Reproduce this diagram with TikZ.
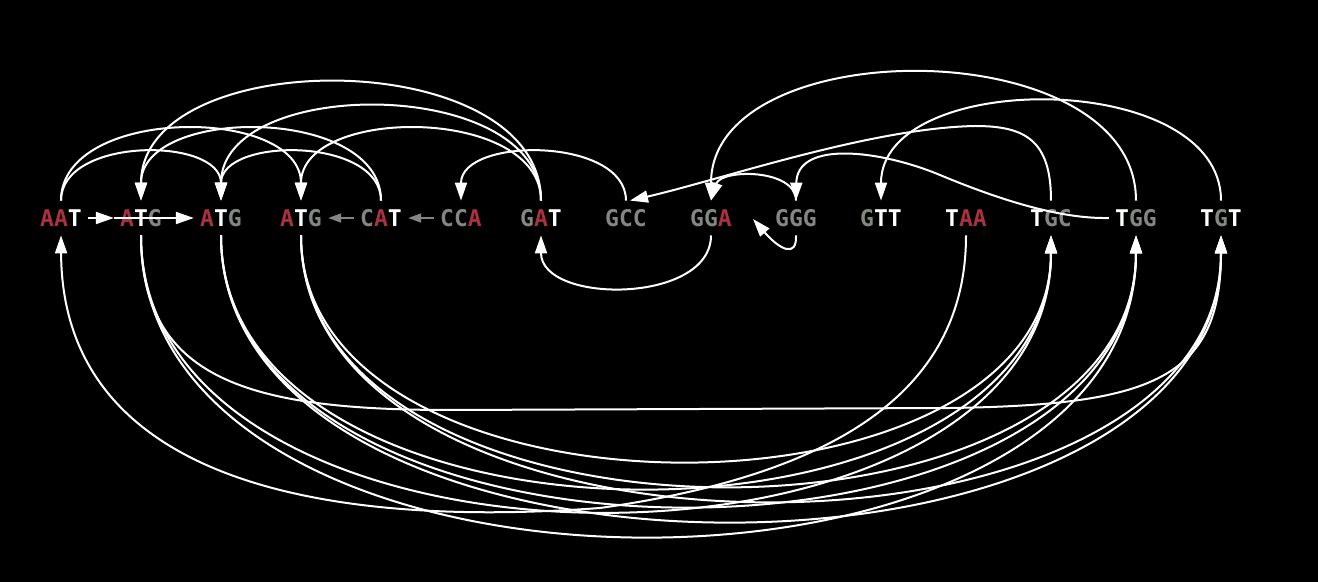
\documentclass[tikz,border=0pt]{standalone}
\usepackage{fontspec}
\setmonofont{DejaVu Sans Mono}
\usetikzlibrary{arrows.meta}
\definecolor{cred}{RGB}{170,50,62}
\definecolor{cgrey}{RGB}{128,136,128}
\newcommand\cR[1]{\textcolor{cred}{#1}}
\newcommand\cG[1]{\textcolor{cgrey}{#1}}
\begin{document}
\begin{tikzpicture}[x=0.5pt,y=-0.5pt,
 codon/.style={font=\ttfamily\bfseries\fontsize{11.5}{12}\selectfont, inner xsep=3pt, inner ysep=0pt, minimum height=17pt, text=white},
 arr/.style={draw=white, line width=1pt, -{Triangle[length=9pt,width=6pt]}},
 garr/.style={draw=cgrey, line width=1pt, -{Triangle[length=6.5pt,width=4.5pt]}},
 ln/.style={draw=white, line width=1pt}]
\useasboundingbox (0,0) rectangle (1318,582);
\fill[black] (0,0) rectangle (1318,582);
\node[codon] (aat) at (61,218) {\cR{AA}T};
\node[codon] (atgA) at (141,218) {\cR{A}T\cG{G}};
\node[codon] (atgB) at (221,218) {\cR{A}T\cG{G}};
\node[codon] (atgC) at (301,218) {\cR{A}T\cG{G}};
\node[codon] (cat) at (381,218) {\cG{C}\cR{A}T};
\node[codon] (cca) at (461,218) {\cG{CC}\cR{A}};
\node[codon] (gat) at (541,218) {\cG{G}\cR{A}T};
\node[codon] (gcc) at (626,218) {\cG{GCC}};
\node[codon] (gga) at (711,218) {\cG{GG}\cR{A}};
\node[codon] (ggg) at (796,218) {\cG{GGG}};
\node[codon] (gtt) at (881,218) {\cG{G}TT};
\node[codon] (taa) at (966,218) {T\cR{AA}};
\node[codon] (tgc) at (1051,218) {T\cG{GC}};
\node[codon] (tgg) at (1136,218) {T\cG{GG}};
\node[codon] (tgt) at (1221,218) {T\cG{G}T};
\coordinate (ggaR) at (753,219);
% straight
\draw[arr] (aat.east) -- (atgA.west);
\draw[arr] (atgA.west) -- (atgB.west);
\draw[garr] (cat.west) -- (atgC.east);
\draw[garr] (cca.west) -- (cat.east);
% upper arcs
\draw[arr] (aat.north) .. controls +(0,-64) and +(0,-64) .. (atgB.north);
\draw[arr] (aat.north) .. controls +(0,-95) and +(0,-95) .. (atgC.north);
\draw[arr] (cat.north) .. controls +(0,-95) and +(0,-95) .. (atgA.north);
\draw[arr] (cat.north) .. controls +(0,-64) and +(0,-64) .. (atgB.north);
\draw[arr] (gat.north) .. controls +(0,-157) and +(0,-157) .. (atgA.north);
\draw[arr] (gat.north) .. controls +(0,-125) and +(0,-125) .. (atgB.north);
\draw[arr] (gat.north) .. controls +(0,-95) and +(0,-95) .. (atgC.north);
\draw[arr] (gcc.north) .. controls +(0,-64) and +(0,-64) .. (cca.north);
\draw[arr] (tgg.north) .. controls +(0,-170) and +(0,-170) .. (gga.north);
\draw[arr] (tgt.north) .. controls +(0,-132) and +(0,-132) .. (gtt.north);
\draw[arr] (ggg.north) .. controls +(0,-32) and +(10,-32) .. (gga.north);
\draw[arr] (tgc.north) .. controls (1051,140) and (1025,126) .. (975,126) .. controls (870,128) and (720,180) .. ([xshift=2pt]gcc.north);
\draw[arr] (tgg.west) .. controls (1060,219) and (1000,200) .. (940,175) .. controls (880,150) and (797,140) .. (ggg.north);
% lower
\draw[arr] (gga.south) .. controls +(0,69) and +(0,69) .. (gat.south);
\draw[arr] (ggg.south) .. controls (797,258) and (780,250) .. (ggaR);
\draw[arr] (taa.south) .. controls (966,370) and (870,470) .. (600,508) .. controls (300,530) and (62,470) .. (aat.south);
\draw[arr] (atgA.south) .. controls (141,380) and (250,410) .. (450,410) -- (950,408) .. controls (1150,405) and (1221,380) .. (tgt.south);
\draw[arr] (atgA.south) .. controls +(0,400) and +(0,400) .. (tgg.south);
\draw[arr] (atgA.south) .. controls +(0,367) and +(0,367) .. (tgc.south);
\draw[arr] (atgB.south) .. controls +(0,380) and +(0,380) .. (tgt.south);
\draw[arr] (atgB.south) .. controls +(0,360) and +(0,360) .. (tgg.south);
\draw[arr] (atgB.south) .. controls +(0,336) and +(0,336) .. (tgc.south);
\draw[arr] (atgC.south) .. controls +(0,353) and +(0,353) .. (tgt.south);
\draw[arr] (atgC.south) .. controls +(0,333) and +(0,333) .. (tgg.south);
\draw[arr] (atgC.south) .. controls +(0,300) and +(0,300) .. (tgc.south);
\end{tikzpicture}
\end{document}
